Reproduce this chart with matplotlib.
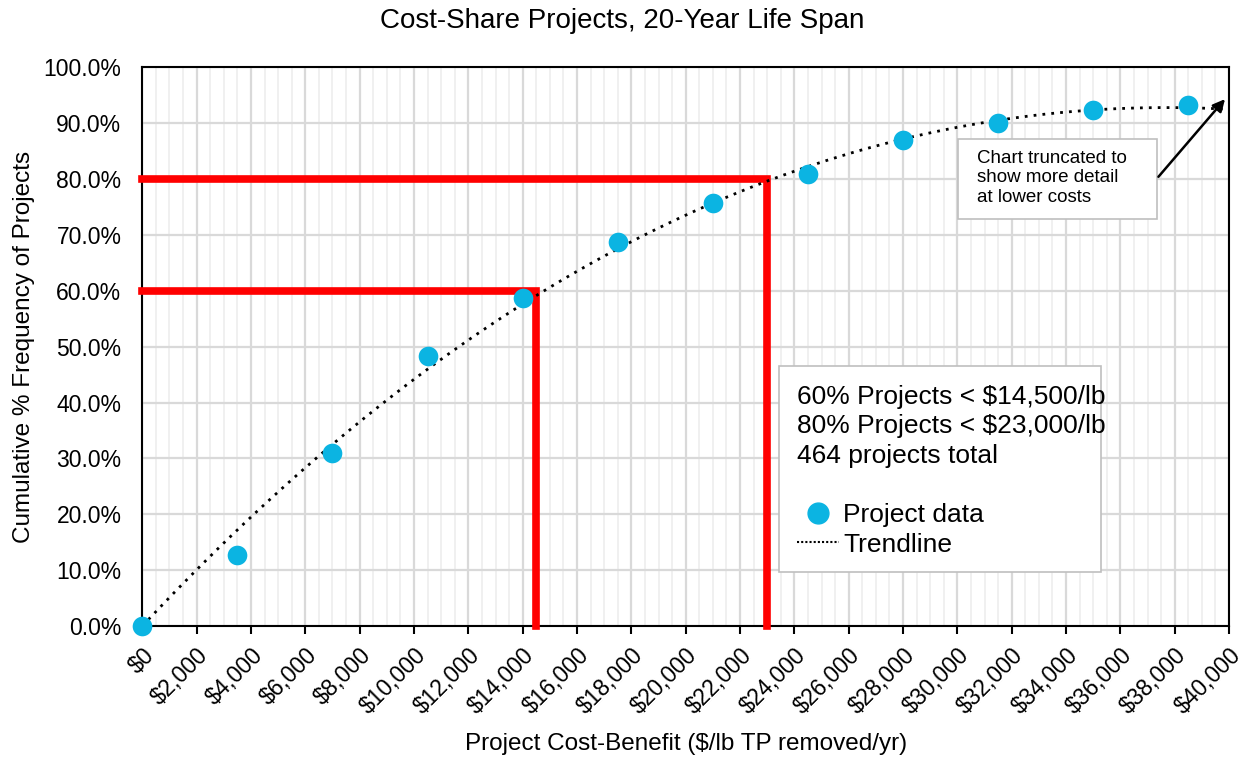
import matplotlib.pyplot as plt
import numpy as np
from matplotlib.lines import Line2D
from matplotlib.patches import Rectangle
from matplotlib.ticker import FuncFormatter, MultipleLocator

plt.rcParams["font.family"] = ["Liberation Sans", "DejaVu Sans"]

# cost-benefit bins ($/lb TP removed/yr) and cumulative share of projects (%)
cost_per_lb = [0, 3500, 7000, 10500, 14000, 17500, 21000, 24500, 28000, 31500, 35000, 38500]
cumulative_pct = [0.0, 12.7, 31.0, 48.3, 58.7, 68.7, 75.7, 80.9, 87.0, 90.0, 92.4, 93.2]

# threshold guides: (cost, percent)
thresholds = [(14500, 60), (23000, 80)]

summary_lines = ["60% Projects < $14,500/lb", "80% Projects < $23,000/lb", "464 projects total"]

POINT_COLOR = "#0BB4E2"
RED = "#FF0000"

fig = plt.figure(figsize=(12.44, 7.61), dpi=100)
ax = fig.add_axes([0.1144, 0.1774, 0.8736, 0.7342])

# grid
ax.xaxis.set_major_locator(MultipleLocator(2000))
ax.xaxis.set_minor_locator(MultipleLocator(500))
ax.yaxis.set_major_locator(MultipleLocator(10))
ax.grid(which="major", color="#d9d9d9", linewidth=1.6, zorder=0)
ax.grid(which="minor", axis="x", color="#f0f0f0", linewidth=1.4, zorder=0)
ax.set_axisbelow(True)

# cubic trendline through the origin, least-squares fit to the project data
xs = np.array(cost_per_lb, dtype=float) / 1000
basis = np.column_stack([xs, xs**2, xs**3])
coef, *_ = np.linalg.lstsq(basis, np.array(cumulative_pct), rcond=None)
trend_x = np.linspace(0, 40, 300)
trend_y = coef[0] * trend_x + coef[1] * trend_x**2 + coef[2] * trend_x**3
ax.plot(trend_x * 1000, trend_y, color="black", linewidth=2.0,
        linestyle=(0, (1, 2.2)), zorder=4)

# threshold lines
for cost, pct in thresholds:
    ax.plot([0, cost, cost], [pct, pct, 0], color=RED, linewidth=5.5,
            solid_joinstyle="miter", zorder=3, clip_on=False)

ax.scatter(cost_per_lb, cumulative_pct, s=200, color=POINT_COLOR, zorder=5,
           clip_on=False, linewidths=0)

ax.set_xlim(0, 40000)
ax.set_ylim(0, 100)

ax.xaxis.set_major_formatter(FuncFormatter(lambda v, _: f"${v:,.0f}"))
ax.yaxis.set_major_formatter(FuncFormatter(lambda v, _: f"{v:.1f}%"))
ax.tick_params(axis="x", which="major", length=6, width=1.5, labelsize=16.5,
               direction="out", pad=7)
ax.tick_params(axis="x", which="minor", length=0)
ax.tick_params(axis="y", length=0, labelsize=16.5, pad=15)
for lab in ax.get_xticklabels():
    lab.set_rotation(45)
    lab.set_ha("right")
    lab.set_rotation_mode("anchor")
for sp in ax.spines.values():
    sp.set_linewidth(1.5)
    sp.set_color("black")

ax.set_xlabel("Project Cost-Benefit ($/lb TP removed/yr)", fontsize=17.5, labelpad=10)
ax.set_ylabel("Cumulative % Frequency of Projects", fontsize=17.5, labelpad=6)
fig.text(0.5, 0.99, "Cost-Share Projects, 20-Year Life Span", fontsize=20,
         ha="center", va="top")

# summary box with legend entries
ax.add_patch(Rectangle((0.586, 0.0967), 0.296, 0.3687, transform=ax.transAxes,
                       facecolor="white", edgecolor="#bfbfbf", linewidth=1.2,
                       zorder=6, clip_on=False))
ax.text(0.6025, 0.432, "\n".join(summary_lines), transform=ax.transAxes,
        fontsize=19, va="top", ha="left", linespacing=1.3, zorder=7)
handles = [
    Line2D([], [], marker="o", linestyle="none", markersize=15, color=POINT_COLOR),
    Line2D([], [], color="black", linestyle=(0, (1, 1)), linewidth=1.5),
]
leg = ax.legend(handles, ["Project data", "Trendline"], loc="upper left",
                bbox_to_anchor=(0.6025, 0.2195), fontsize=19, frameon=False,
                handlelength=1.6, handletextpad=0.15, labelspacing=0.2,
                borderpad=0, borderaxespad=0)
leg.set_zorder(7)

# note about truncated axis
ax.add_patch(Rectangle((30020, 72.8), 7330, 14.3, facecolor="white",
                       edgecolor="#bfbfbf", linewidth=1.2, zorder=6))
ax.text(30720, 80.2, "Chart truncated to\nshow more detail\nat lower costs",
        fontsize=13.5, va="center", ha="left", linespacing=1.2, zorder=7)
ax.annotate("", xy=(39850, 94.3), xytext=(37400, 80.4),
            arrowprops=dict(arrowstyle="-|>", color="black", lw=1.8,
                            mutation_scale=18, shrinkA=0, shrinkB=0), zorder=7)

fig.savefig("out.png", dpi=100)
